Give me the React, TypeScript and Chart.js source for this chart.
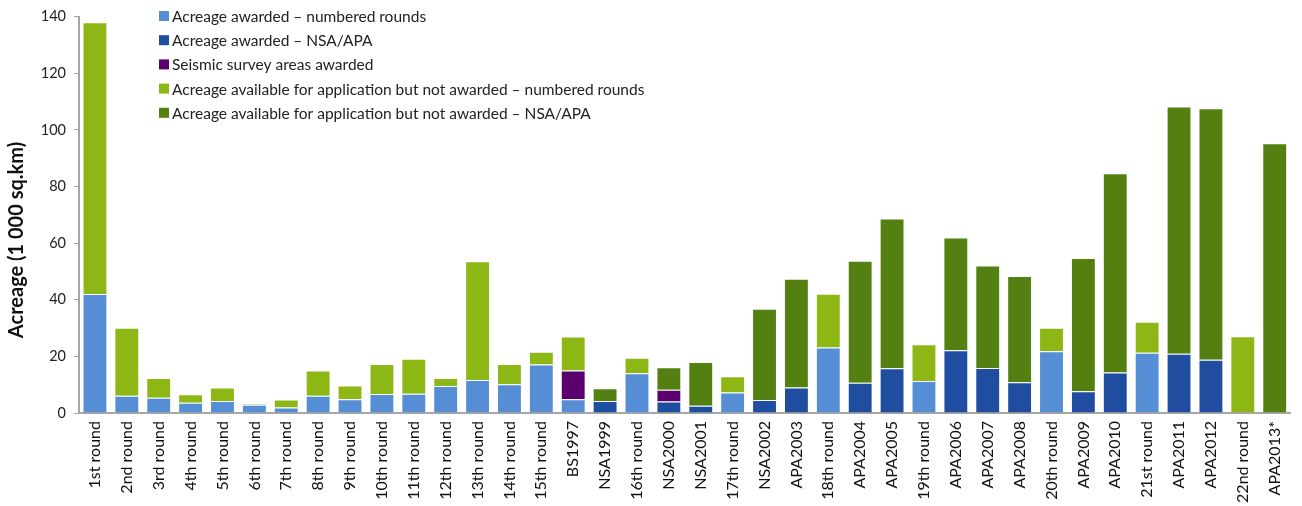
import React, { useEffect, useRef } from "react";
import { Chart, registerables } from "chart.js";

Chart.register(...registerables);

const categories = [
  "1st round", "2nd round", "3rd round", "4th round", "5th round", "6th round", "7th round",
  "8th round", "9th round", "10th round", "11th round", "12th round", "13th round", "14th round",
  "15th round", "BS1997", "NSA1999", "16th round", "NSA2000", "NSA2001", "17th round", "NSA2002",
  "APA2003", "18th round", "APA2004", "APA2005", "19th round", "APA2006", "APA2007", "APA2008",
  "20th round", "APA2009", "APA2010", "21st round", "APA2011", "APA2012", "22nd round", "APA2013*",
];

const awardedNumbered = [
  42, 6.1, 5.4, 3.6, 4.2, 2.9, 1.9, 6.1, 4.9, 6.7, 6.8, 9.5, 11.7, 10.2, 17.1, 4.9, 0, 14.0, 0, 0,
  7.2, 0, 0, 23.1, 0, 0, 11.3, 0, 0, 0, 21.8, 0, 0, 21.3, 0, 0, 0, 0,
];
const awardedNsaApa = [
  0, 0, 0, 0, 0, 0, 0, 0, 0, 0, 0, 0, 0, 0, 0, 0, 4.2, 0, 4.1, 2.6, 0, 4.6, 9.0, 0, 10.7, 15.8, 0,
  22.2, 15.9, 10.9, 0, 7.7, 14.3, 0, 20.9, 18.8, 0, 0,
];
const seismicAwarded = [
  0, 0, 0, 0, 0, 0, 0, 0, 0, 0, 0, 0, 0, 0, 0, 10.1, 0, 0, 4.1, 0, 0, 0, 0, 0, 0, 0, 0, 0, 0, 0, 0,
  0, 0, 0, 0, 0, 0, 0,
];
const availableNumbered = [
  96, 24, 7.0, 3.0, 4.8, 0.4, 2.9, 8.9, 4.8, 10.6, 12.4, 2.9, 41.9, 7.1, 4.5, 12.0, 0, 5.5, 0, 0,
  5.8, 0, 0, 19.0, 0, 0, 13.0, 0, 0, 0, 8.3, 0, 0, 10.9, 0, 0, 27.1, 0,
];
const availableNsaApa = [
  0, 0, 0, 0, 0, 0, 0, 0, 0, 0, 0, 0, 0, 0, 0, 0, 4.5, 0, 8.0, 15.4, 0, 32.2, 38.4, 0, 43.1, 52.9, 0,
  39.8, 36.2, 37.5, 0, 47.1, 70.4, 0, 87.4, 88.9, 0, 95.3,
];

const seriesLabels = [
  "Acreage awarded \u2013 numbered rounds",
  "Acreage awarded \u2013 NSA/APA",
  "Seismic survey areas awarded",
  "Acreage available for application but not awarded \u2013 numbered rounds",
  "Acreage available for application but not awarded \u2013 NSA/APA",
];
const seriesColors = ["#558ED5", "#1F4EA0", "#5A006E", "#8DB715", "#548012"];

const yTitle = "Acreage (1 000 sq.km)";
const FONT = "Lato, 'Open Sans', sans-serif";

const legendPlugin = {
  id: "customLegend",
  afterDraw(chart: any) {
    const ctx = chart.ctx;
    ctx.save();
    ctx.font = `15.5px ${FONT}`;
    ctx.textBaseline = "middle";
    ctx.textAlign = "left";
    chart.data.datasets.forEach((ds: any, i: number) => {
      const y = 16 + i * 24.2;
      ctx.fillStyle = ds.backgroundColor;
      ctx.fillRect(159, y - 5, 10, 10);
      ctx.fillStyle = "#222";
      ctx.fillText(ds.label, 172, y + 1);
    });
    // y axis title
    ctx.translate(17, 240);
    ctx.rotate(-Math.PI / 2);
    ctx.font = `bold 20px ${FONT}`;
    ctx.textAlign = "center";
    ctx.fillStyle = "#111";
    ctx.fillText(yTitle, 0, 0);
    ctx.restore();
  },
};

export default function App() {
  const ref = useRef<HTMLCanvasElement | null>(null);
  useEffect(() => {
    document.body.style.margin = "0";
    const values = [awardedNumbered, awardedNsaApa, seismicAwarded, availableNumbered, availableNsaApa];
    const chart = new Chart(ref.current as HTMLCanvasElement, {
      type: "bar",
      data: {
        labels: categories,
        datasets: values.map((v, i) => ({
          label: seriesLabels[i],
          data: v.map((x) => (x === 0 ? null : x)),
          backgroundColor: seriesColors[i],
          borderColor: "rgba(255,255,255,0.55)",
          borderWidth: 1,
          borderSkipped: "bottom",
          barPercentage: 0.78,
          categoryPercentage: 1,
        })),
      },
      options: {
        animation: false,
        responsive: false,
        maintainAspectRatio: false,
        layout: { padding: { top: 15, right: 8, left: 0, bottom: 0 } },
        plugins: { legend: { display: false }, tooltip: { enabled: false } },
        scales: {
          x: {
            stacked: true,
            grid: { display: false, drawTicks: false },
            border: { display: true, color: "#A6A6A6", width: 2 },
            ticks: {
              maxRotation: 90,
              minRotation: 90,
              autoSkip: false,
              padding: 8,
              color: "#111",
              font: { family: FONT, size: 16 },
            },
            afterFit(scale: any) {
              scale.height = 93;
            },
          },
          y: {
            stacked: true,
            min: 0,
            max: 140,
            grid: { display: true, drawOnChartArea: false, tickLength: 5, color: "#A6A6A6", tickWidth: 1 },
            border: { display: true, color: "#A6A6A6", width: 2 },
            ticks: {
              stepSize: 20,
              padding: 8,
              color: "#222",
              font: { family: FONT, size: 14.5 },
            },
            afterFit(scale: any) {
              scale.width = 79;
            },
          },
        },
      },
      plugins: [legendPlugin],
    } as any);
    return () => chart.destroy();
  }, []);
  return (
    <div style={{ width: 1302, height: 506, background: "#fff" }}>
      <canvas ref={ref} width={1302} height={506} style={{ display: "block" }} />
    </div>
  );
}
